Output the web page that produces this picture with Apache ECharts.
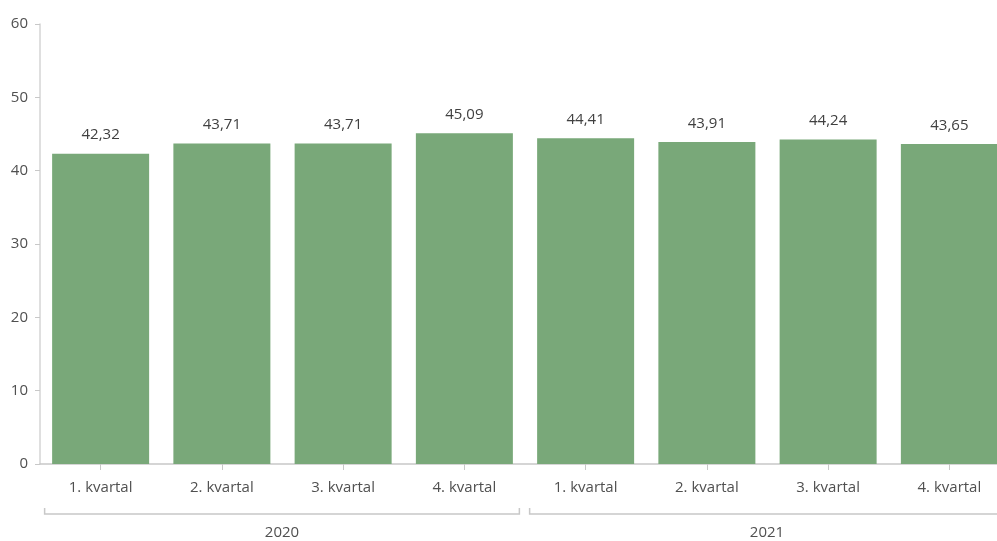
<!DOCTYPE html>
<html><head><meta charset="utf-8">
<script src="https://cdn.jsdelivr.net/npm/echarts@6/dist/echarts.min.js"></script>
<style>html,body{margin:0;padding:0;background:#fff;overflow:hidden}#c{width:1010px;height:541px}</style>
</head><body><div id="c"></div>
<script>
var quarters = ['1. kvartal','2. kvartal','3. kvartal','4. kvartal','1. kvartal','2. kvartal','3. kvartal','4. kvartal'];
var years = ['2020','2021'];
var quartersPerYear = 4;
var values = [42.32, 43.71, 43.71, 45.09, 44.41, 43.91, 44.24, 43.65];
var yTicks = [0,10,20,30,40,50,60];

var font = '"Open Sans", "Noto Sans", sans-serif';
var chart = echarts.init(document.getElementById('c'), null, {renderer:'canvas'});
chart.setOption({
  animation:false,
  grid:{left:40, right:0, top:24, bottom:77},
  xAxis:{type:'category', data:quarters,
    axisLine:{lineStyle:{color:'#c8c8c8', width:1.5}},
    axisTick:{show:true, alignWithLabel:true, length:6, lineStyle:{color:'#c8c8c8'}},
    axisLabel:{color:'#505050', fontFamily:font, fontSize:15, margin:16}},
  yAxis:{type:'value', min:yTicks[0], max:yTicks[yTicks.length-1], interval:10,
    splitLine:{show:false},
    axisLine:{show:true, lineStyle:{color:'#d4d4d4', width:1.5}},
    axisTick:{show:true, length:5, lineStyle:{color:'#c8c8c8'}},
    axisLabel:{color:'#505050', fontFamily:font, fontSize:15, margin:12}},
  series:[{type:'bar', data:values, barCategoryGap:'20%',
    itemStyle:{color:'#79a879'},
    label:{show:true, position:'top', distance:11, color:'#404040', fontFamily:font, fontSize:15,
      formatter:function(p){return p.value.toFixed(2).replace('.',',');}}}]
});

// year group brackets
var g = [];
var yLine = 514, tickH = 6;
for (var i=0;i<years.length;i++){
  var first = i*quartersPerYear, last = first+quartersPerYear-1;
  var x0 = chart.convertToPixel({xAxisIndex:0}, first) - 56;
  var x1 = chart.convertToPixel({xAxisIndex:0}, last) + 55;
  g.push({type:'polyline', shape:{points:[[x0,yLine-tickH],[x0,yLine],[x1,yLine],[x1,yLine-tickH]]},
    style:{stroke:'#c8c8c8', lineWidth:1.5, fill:null}});
  g.push({type:'text', x:(x0+x1)/2, y:533, style:{text:years[i], fill:'#505050', font:'15px '+font, textAlign:'center', textVerticalAlign:'middle'}});
}
chart.setOption({graphic:g});
</script></body></html>
